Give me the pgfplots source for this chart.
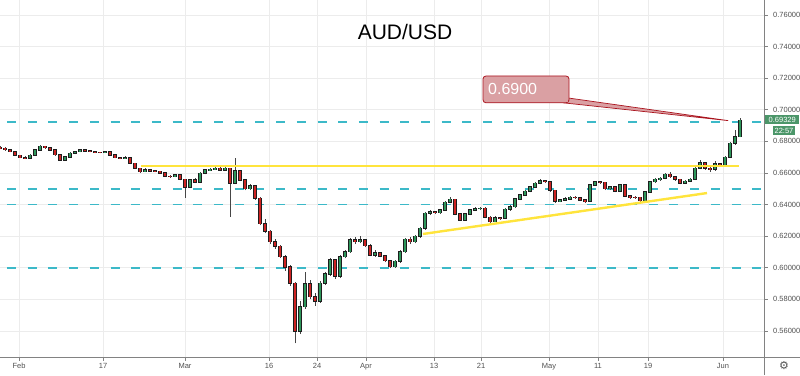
\documentclass[border=0pt]{standalone}
\usepackage{pgfplots}
\pgfplotsset{compat=1.18}
\usepackage{pgfplotstable}
\usetikzlibrary{calc}
\usepackage{fontspec}
\setmainfont{Liberation Sans}
\newfontfamily\symfont{DejaVu Sans}
\definecolor{gridc}{RGB}{236,236,236}
\definecolor{axc}{RGB}{130,130,130}
\definecolor{labc}{RGB}{80,80,80}
\definecolor{upc}{RGB}{45,150,90}
\definecolor{dnc}{RGB}{205,35,35}
\definecolor{wickc}{RGB}{70,70,70}
\definecolor{edgec}{RGB}{30,30,30}
\definecolor{dashc}{RGB}{60,185,200}
\definecolor{yel}{RGB}{255,228,60}
\definecolor{callfill}{RGB}{218,160,163}
\definecolor{callline}{RGB}{170,20,30}
\definecolor{lastc}{RGB}{75,150,105}

\pgfplotstableread{
x o h l c
0 0.6762 0.6768 0.6750 0.6756
5 0.6756 0.6762 0.6742 0.6748
10 0.6748 0.6752 0.6730 0.6735
15 0.6735 0.6740 0.6706 0.6712
20 0.6712 0.6716 0.6692 0.6698
25 0.6698 0.6705 0.6688 0.6695
30 0.6695 0.6718 0.6690 0.6712
35 0.6712 0.6750 0.6708 0.6745
40 0.6745 0.6775 0.6740 0.6768
45 0.6768 0.6774 0.6754 0.6760
50 0.6760 0.6764 0.6740 0.6745
55 0.6745 0.6749 0.6710 0.6715
60 0.6715 0.6719 0.6676 0.6682
65 0.6682 0.6706 0.6678 0.6702
70 0.6702 0.6730 0.6698 0.6725
75 0.6725 0.6740 0.6720 0.6735
80 0.6735 0.6752 0.6730 0.6746
85 0.6746 0.6750 0.6734 0.6739
90 0.6739 0.6744 0.6730 0.6735
95 0.6735 0.6740 0.6726 0.6731
100 0.6731 0.6736 0.6724 0.6729
105 0.6729 0.6741 0.6725 0.6735
110 0.6735 0.6739 0.6710 0.6714
115 0.6714 0.6718 0.6692 0.6697
120 0.6697 0.6702 0.6688 0.6693
125 0.6693 0.6705 0.6689 0.6697
130 0.6697 0.6700 0.6656 0.6661
135 0.6661 0.6665 0.6625 0.6630
140 0.6630 0.6634 0.6602 0.6608
145 0.6608 0.6630 0.6604 0.6622
150 0.6622 0.6627 0.6606 0.6612
155 0.6612 0.6618 0.6604 0.6610
160 0.6610 0.6614 0.6594 0.6600
165 0.6600 0.6604 0.6574 0.6580
170 0.6580 0.6590 0.6570 0.6578
175 0.6578 0.6594 0.6572 0.6587
180 0.6587 0.6592 0.6554 0.6560
185 0.6560 0.6565 0.6442 0.6510
190 0.6510 0.6562 0.6505 0.6556
195 0.6556 0.6566 0.6536 0.6542
200 0.6542 0.6604 0.6538 0.6598
205 0.6598 0.6625 0.6592 0.6619
210 0.6619 0.6630 0.6612 0.6623
215 0.6623 0.6638 0.6618 0.6630
220 0.6630 0.6636 0.6612 0.6619
225 0.6619 0.6640 0.6614 0.6630
230 0.6630 0.6634 0.6323 0.6535
235 0.6535 0.6693 0.6530 0.6615
240 0.6615 0.6620 0.6548 0.6556
245 0.6556 0.6562 0.6490 0.6500
250 0.6500 0.6532 0.6494 0.6520
255 0.6520 0.6526 0.6430 0.6440
260 0.6440 0.6446 0.6268 0.6280
265 0.6280 0.6310 0.6220 0.6230
270 0.6230 0.6240 0.6150 0.6165
275 0.6165 0.6185 0.6120 0.6135
280 0.6135 0.6145 0.6060 0.6070
285 0.6070 0.6080 0.5980 0.6005
290 0.6005 0.6015 0.5885 0.5902
295 0.5902 0.5910 0.5522 0.5600
300 0.5600 0.5790 0.5580 0.5754
305 0.5754 0.5975 0.5740 0.5900
310 0.5900 0.5920 0.5800 0.5817
315 0.5817 0.5840 0.5760 0.5790
320 0.5790 0.5915 0.5780 0.5902
325 0.5902 0.5975 0.5890 0.5960
330 0.5960 0.6060 0.5950 0.6049
335 0.6049 0.6055 0.5930 0.5945
340 0.5945 0.6080 0.5935 0.6070
345 0.6070 0.6115 0.6060 0.6102
350 0.6102 0.6190 0.6095 0.6176
355 0.6176 0.6195 0.6150 0.6165
360 0.6165 0.6200 0.6155 0.6176
365 0.6176 0.6185 0.6130 0.6140
370 0.6140 0.6148 0.6072 0.6081
375 0.6081 0.6110 0.6070 0.6095
380 0.6095 0.6102 0.6066 0.6075
385 0.6075 0.6082 0.6035 0.6045
390 0.6045 0.6050 0.5998 0.6007
395 0.6007 0.6048 0.6000 0.6040
400 0.6040 0.6110 0.6032 0.6102
405 0.6102 0.6188 0.6095 0.6180
410 0.6180 0.6192 0.6150 0.6165
415 0.6165 0.6210 0.6155 0.6200
420 0.6200 0.6258 0.6190 0.6250
425 0.6250 0.6355 0.6242 0.6345
430 0.6345 0.6365 0.6335 0.6355
435 0.6355 0.6362 0.6340 0.6349
440 0.6349 0.6375 0.6342 0.6366
445 0.6366 0.6422 0.6360 0.6415
450 0.6415 0.6445 0.6408 0.6433
455 0.6433 0.6438 0.6332 0.6340
460 0.6340 0.6345 0.6295 0.6303
465 0.6303 0.6348 0.6298 0.6340
470 0.6340 0.6374 0.6334 0.6366
475 0.6366 0.6383 0.6358 0.6375
480 0.6375 0.6385 0.6365 0.6377
485 0.6377 0.6382 0.6312 0.6320
490 0.6320 0.6326 0.6285 0.6292
495 0.6292 0.6325 0.6288 0.6318
500 0.6318 0.6324 0.6305 0.6313
505 0.6313 0.6376 0.6308 0.6370
510 0.6370 0.6395 0.6362 0.6387
515 0.6387 0.6442 0.6380 0.6435
520 0.6435 0.6466 0.6428 0.6460
525 0.6460 0.6492 0.6455 0.6485
530 0.6485 0.6518 0.6478 0.6511
535 0.6511 0.6542 0.6505 0.6535
540 0.6535 0.6562 0.6528 0.6550
545 0.6550 0.6558 0.6538 0.6545
550 0.6545 0.6550 0.6482 0.6490
555 0.6490 0.6494 0.6410 0.6420
560 0.6420 0.6436 0.6414 0.6429
565 0.6429 0.6445 0.6422 0.6436
570 0.6436 0.6454 0.6430 0.6446
575 0.6446 0.6452 0.6436 0.6444
580 0.6444 0.6450 0.6422 0.6429
585 0.6429 0.6434 0.6410 0.6420
590 0.6420 0.6530 0.6416 0.6524
595 0.6524 0.6550 0.6518 0.6543
600 0.6543 0.6552 0.6532 0.6540
605 0.6540 0.6546 0.6492 0.6500
610 0.6500 0.6520 0.6494 0.6513
615 0.6513 0.6518 0.6478 0.6485
620 0.6485 0.6530 0.6480 0.6524
625 0.6524 0.6528 0.6448 0.6455
630 0.6455 0.6460 0.6438 0.6446
635 0.6446 0.6454 0.6436 0.6445
640 0.6445 0.6450 0.6416 0.6425
645 0.6425 0.6486 0.6420 0.6480
650 0.6480 0.6550 0.6474 0.6545
655 0.6545 0.6568 0.6538 0.6560
660 0.6560 0.6575 0.6552 0.6566
665 0.6566 0.6600 0.6560 0.6592
670 0.6592 0.6604 0.6570 0.6577
675 0.6577 0.6582 0.6552 0.6560
680 0.6560 0.6565 0.6528 0.6535
685 0.6535 0.6554 0.6530 0.6548
690 0.6548 0.6566 0.6542 0.6560
695 0.6560 0.6636 0.6555 0.6630
700 0.6630 0.6680 0.6624 0.6665
705 0.6665 0.6672 0.6622 0.6630
710 0.6630 0.6650 0.6605 0.6623
715 0.6623 0.6675 0.6615 0.6658
720 0.6658 0.6666 0.6640 0.6651
725 0.6651 0.6708 0.6646 0.6700
730 0.6700 0.6795 0.6694 0.6788
735 0.6788 0.6870 0.6780 0.6830
740 0.6830 0.6945 0.6825 0.6933
}\candles

\begin{document}
\begin{tikzpicture}[x=1pt,y=1pt]
\begin{axis}[
  scale only axis, width=764pt, height=357pt,
  xmin=0, xmax=764, ymin=0.54354, ymax=0.76949,
  axis x line*=bottom, axis y line*=right,
  axis line style={draw=none},
  tick align=outside, major tick length=3.5pt,
  tick style={axc, line width=0.6pt},
  grid=major, major grid style={gridc, line width=0.7pt},
  xtick={19,103,185,269,317,366,434,481,549,598,648,723},
  xticklabels={Feb,17,Mar,16,24,Apr,13,21,May,11,19,Jun},
  ytick={0.56,0.58,0.60,0.62,0.64,0.66,0.68,0.70,0.72,0.74,0.76},
  yticklabels={0.56000,0.58000,0.60000,0.62000,0.64000,0.66000,0.68000,0.70000,0.72000,0.74000,0.76000},
  tick label style={font=\fontsize{7.5}{9}\selectfont, text=labc},
  xticklabel style={inner sep=1pt, yshift=-1.5pt},
  yticklabel style={inner sep=2pt, xshift=3.5pt},
]
\coordinate (SW) at (rel axis cs:0,0);
% support / resistance dashed levels
\draw[dashc, line width=1.6pt, dash pattern=on 9pt off 11.7pt, dash phase=13.7pt] (axis cs:0,0.6921) -- (axis cs:764,0.6921);
\draw[dashc, line width=1.6pt, dash pattern=on 9pt off 11.7pt, dash phase=13.7pt] (axis cs:0,0.6500) -- (axis cs:764,0.6500);
\draw[dashc, line width=1.6pt, dash pattern=on 9pt off 11.7pt, dash phase=13.7pt] (axis cs:0,0.6400) -- (axis cs:764,0.6400);
\draw[dashc, line width=1.6pt, dash pattern=on 9pt off 11.7pt, dash phase=13.7pt] (axis cs:0,0.6000) -- (axis cs:764,0.6000);
% wicks
\addplot[draw=none, mark=none, error bars/.cd, y dir=plus, y explicit, error mark=none,
  error bar style={draw=wickc, line width=0.6pt}]
  table[x=x, y=l, y error expr=\thisrow{h}-\thisrow{l}] {\candles};
% body outlines
\addplot[draw=none, mark=none,
  error bars/.cd, y dir=both, y explicit, error mark=none,
  error bar style={draw=edgec, line width=3.4pt}]
  table[x=x, y expr=(\thisrow{o}+\thisrow{c})/2, y error expr=abs(\thisrow{c}-\thisrow{o})/2+0.0004] {\candles};
% up bodies
\addplot[draw=none, mark=none, restrict expr to domain={\thisrow{c}-\thisrow{o}}{0:1},
  error bars/.cd, y dir=both, y explicit, error mark=none,
  error bar style={draw=upc, line width=2pt}]
  table[x=x, y expr=(\thisrow{o}+\thisrow{c})/2, y error expr=abs(\thisrow{c}-\thisrow{o})/2] {\candles};
% down bodies
\addplot[draw=none, mark=none, restrict expr to domain={\thisrow{c}-\thisrow{o}}{-1:-0.00001},
  error bars/.cd, y dir=both, y explicit, error mark=none,
  error bar style={draw=dnc, line width=2pt}]
  table[x=x, y expr=(\thisrow{o}+\thisrow{c})/2, y error expr=abs(\thisrow{c}-\thisrow{o})/2] {\candles};
% trend lines
\draw[yel, line width=2.4pt] (axis cs:141,0.6645) -- (axis cs:739,0.6645);
\draw[yel, line width=2.4pt] (axis cs:423,0.6214) -- (axis cs:707,0.6473);
% callout
\filldraw[fill=callfill, draw=callline, line width=0.7pt, line join=round] (axis cs:563,0.70443) -- (axis cs:728,0.69316) -- (axis cs:568,0.7075) -- cycle;
\filldraw[fill=callfill, draw=callline, line width=0.8pt, rounded corners=3pt] (axis cs:483,0.72139) rectangle (axis cs:569,0.70443);
\fill[callfill] (axis cs:560,0.7052) rectangle (axis cs:567.5,0.7078);
\node[text=white, font=\fontsize{16}{18}\selectfont, anchor=west, inner sep=0pt] at (axis cs:488,0.7129) {0.6900};
\end{axis}
\pgfresetboundingbox
\begin{scope}[shift={($(SW)+(0,-18)$)}]
\useasboundingbox (0,0) rectangle (800,375);
% frame lines
\draw[axc, line width=0.7pt] (0,18) -- (800,18);
\draw[axc, line width=0.7pt] (764,0) -- (764,375);
% title
\node[font=\fontsize{21}{24}\selectfont] at (405,343) {AUD/USD};
% last price labels
\node[fill=lastc, text=white, font=\fontsize{7.5}{9}\selectfont, inner sep=1.2pt, anchor=west, minimum height=9pt, minimum width=34pt] at (765,255.5) {0.69329};
\node[fill=lastc, text=white, font=\fontsize{7.5}{9}\selectfont, inner sep=1.2pt, anchor=center, minimum height=9pt, minimum width=20pt] at (784,244.5) {22:57};
% settings gear
\node[text=labc, font=\symfont\fontsize{11}{12}\selectfont] at (784,9) {⚙};
\end{scope}
\end{tikzpicture}
\end{document}
